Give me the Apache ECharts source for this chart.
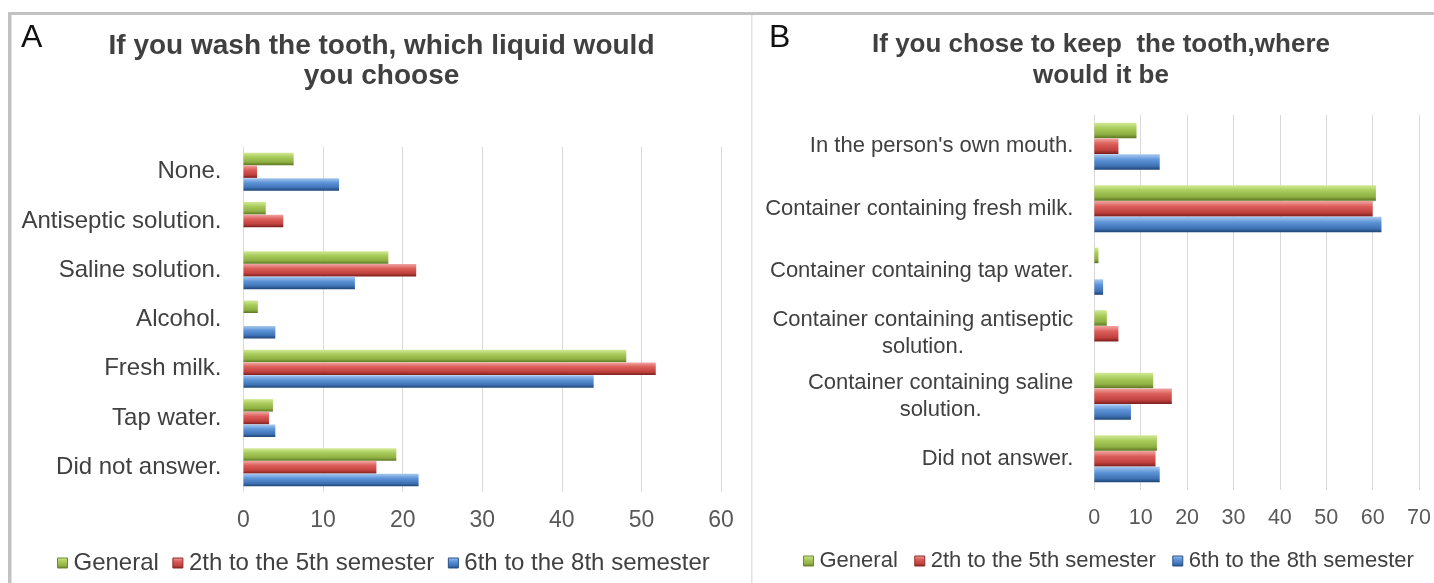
<!DOCTYPE html>
<html>
<head>
<meta charset="utf-8">
<script src="https://cdn.jsdelivr.net/npm/echarts@6/dist/echarts.min.js"></script>
<style>
  html, body { margin: 0; padding: 0; background: #fff; }
  #chart { width: 1434px; height: 583px; }
</style>
</head>
<body>
<div id="chart"></div>
<script>
const seriesNames = ['General', '2th to the 5th semester', '6th to the 8th semester'];

// panel A: which liquid to wash the tooth
const washCategories = ['None.', 'Antiseptic solution.', 'Saline solution.', 'Alcohol.', 'Fresh milk.', 'Tap water.', 'Did not answer.'];
const washGeneral = [6.3, 2.8, 18.2, 1.8, 48.1, 3.7, 19.2];
const washEarly = [1.7, 5.0, 21.7, 0, 51.8, 3.2, 16.7];
const washLate = [12.0, 0, 14.0, 4.0, 44.0, 4.0, 22.0];
const washTicks = [0, 10, 20, 30, 40, 50, 60];

// panel B: where to keep the tooth
const keepCategories = [
    "In the person's own mouth.",
    'Container containing fresh milk.',
    'Container containing tap water.',
    'Container containing antiseptic\nsolution.',
    'Container containing saline\nsolution.',
    'Did not answer.'
];
const keepGeneral = [9.1, 60.7, 0.9, 2.7, 12.7, 13.5];
const keepEarly = [5.2, 60.0, 0, 5.2, 16.7, 13.2];
const keepLate = [14.1, 61.9, 1.9, 0, 7.9, 14.1];
const keepTicks = [0, 10, 20, 30, 40, 50, 60, 70];

const font = '"Liberation Sans", Arial, sans-serif';
const textColor = '#404040';

// excel style 3d-ish bars
function shade(light, mid, dark, deep) {
    return new echarts.graphic.LinearGradient(0, 0, 0, 1, [
        {offset: 0, color: light},
        {offset: 0.35, color: mid},
        {offset: 0.75, color: dark},
        {offset: 1, color: deep}
    ]);
}
const barColors = [
    shade('#d3ea96', '#a9cc5c', '#8fb043', '#5b7622'),
    shade('#f1a5a2', '#dc5e5a', '#c0413e', '#7a1f1d'),
    shade('#a8c8f0', '#5e95d8', '#3f73b6', '#1e4475')
];
const edgeColors = ['#6c8a2c', '#8e2b28', '#2a5287'];

function valueAxis(gridIndex, ticks, fontSize) {
    return {
        type: 'value',
        gridIndex: gridIndex,
        min: ticks[0],
        max: ticks[ticks.length - 1],
        interval: ticks[1] - ticks[0],
        axisLine: {show: false},
        axisTick: {show: false},
        splitLine: {lineStyle: {color: '#d9d9d9', width: 1}},
        axisLabel: {color: '#595959', fontSize: fontSize, fontFamily: font, margin: 17}
    };
}

function barSeries(axisIndex, lists, barWidth) {
    return lists.map((list, i) => ({
        name: seriesNames[i],
        type: 'bar',
        xAxisIndex: axisIndex,
        yAxisIndex: axisIndex,
        data: list,
        barWidth: barWidth,
        barGap: '2%',
        itemStyle: {color: barColors[i], borderWidth: 0}
    }));
}

function legendAt(left, top, fontSize, gap) {
    return {
        data: seriesNames.map((name, i) => ({
            name: name,
            itemStyle: {color: barColors[i], borderColor: edgeColors[i], borderWidth: 1}
        })),
        left: left,
        top: top,
        padding: 0,
        icon: 'rect',
        itemWidth: 10,
        itemHeight: 10,
        itemGap: gap,
        textStyle: {color: textColor, fontSize: fontSize, fontFamily: font, padding: [0, 0, 0, 1]}
    };
}

const chart = echarts.init(document.getElementById('chart'));
chart.setOption({
    animation: false,
    backgroundColor: '#fff',
    title: [
        {text: 'A', left: 21, top: 22, padding: 0,
            textStyle: {fontSize: 32, fontWeight: 'normal', color: '#111', fontFamily: font}},
        {text: 'If you wash the tooth, which liquid would\nyou choose', left: 381.5, top: 31, padding: 0, textAlign: 'center',
            textStyle: {fontSize: 28, fontWeight: 'bold', color: textColor, fontFamily: font, lineHeight: 30}},
        {text: 'B', left: 769, top: 22, padding: 0,
            textStyle: {fontSize: 32, fontWeight: 'normal', color: '#111', fontFamily: font}},
        {text: 'If you chose to keep  the tooth,where\nwould it be', left: 1101, top: 29, padding: 0, textAlign: 'center',
            textStyle: {fontSize: 26, fontWeight: 'bold', color: textColor, fontFamily: font, lineHeight: 31}}
    ],
    legend: [
        legendAt(57, 551, 24, 13.5),
        legendAt(803, 550, 22, 16.5)
    ],
    grid: [
        {left: 243.5, right: 713, top: 147, bottom: 91},
        {left: 1094.3, right: 14, top: 115, bottom: 93}
    ],
    xAxis: [
        valueAxis(0, washTicks, 23),
        valueAxis(1, keepTicks, 21.5)
    ],
    yAxis: [
        {
            type: 'category', gridIndex: 0, inverse: true, data: washCategories,
            axisLine: {show: false}, axisTick: {show: false},
            axisLabel: {interval: 0, margin: 22, color: textColor, fontSize: 24, fontFamily: font}
        },
        {
            type: 'category', gridIndex: 1, inverse: true, data: keepCategories,
            axisLine: {show: false}, axisTick: {show: false},
            axisLabel: {
                interval: 0, margin: 21, color: textColor, fontSize: 22, fontFamily: font,
                formatter: v => v.split('\n').map(s => '{c|' + s + '}').join('\n'),
                rich: {c: {align: 'center', fontSize: 22, lineHeight: 27, color: textColor, fontFamily: font}}
            }
        }
    ],
    series: [
        ...barSeries(0, [washGeneral, washEarly, washLate], 12.5),
        ...barSeries(1, [keepGeneral, keepEarly, keepLate], 15.5)
    ],
    graphic: [
        // frame of the screenshot
        {type: 'rect', shape: {x: 8, y: 12, width: 1426, height: 3}, style: {fill: '#c2c2c2'}, silent: true},
        {type: 'rect', shape: {x: 8, y: 12, width: 3.5, height: 571}, style: {fill: '#c2c2c2'}, silent: true},
        {type: 'rect', shape: {x: 751, y: 15, width: 1.5, height: 568}, style: {fill: '#e2e2e2'}, silent: true}
    ]
});
</script>
</body>
</html>
